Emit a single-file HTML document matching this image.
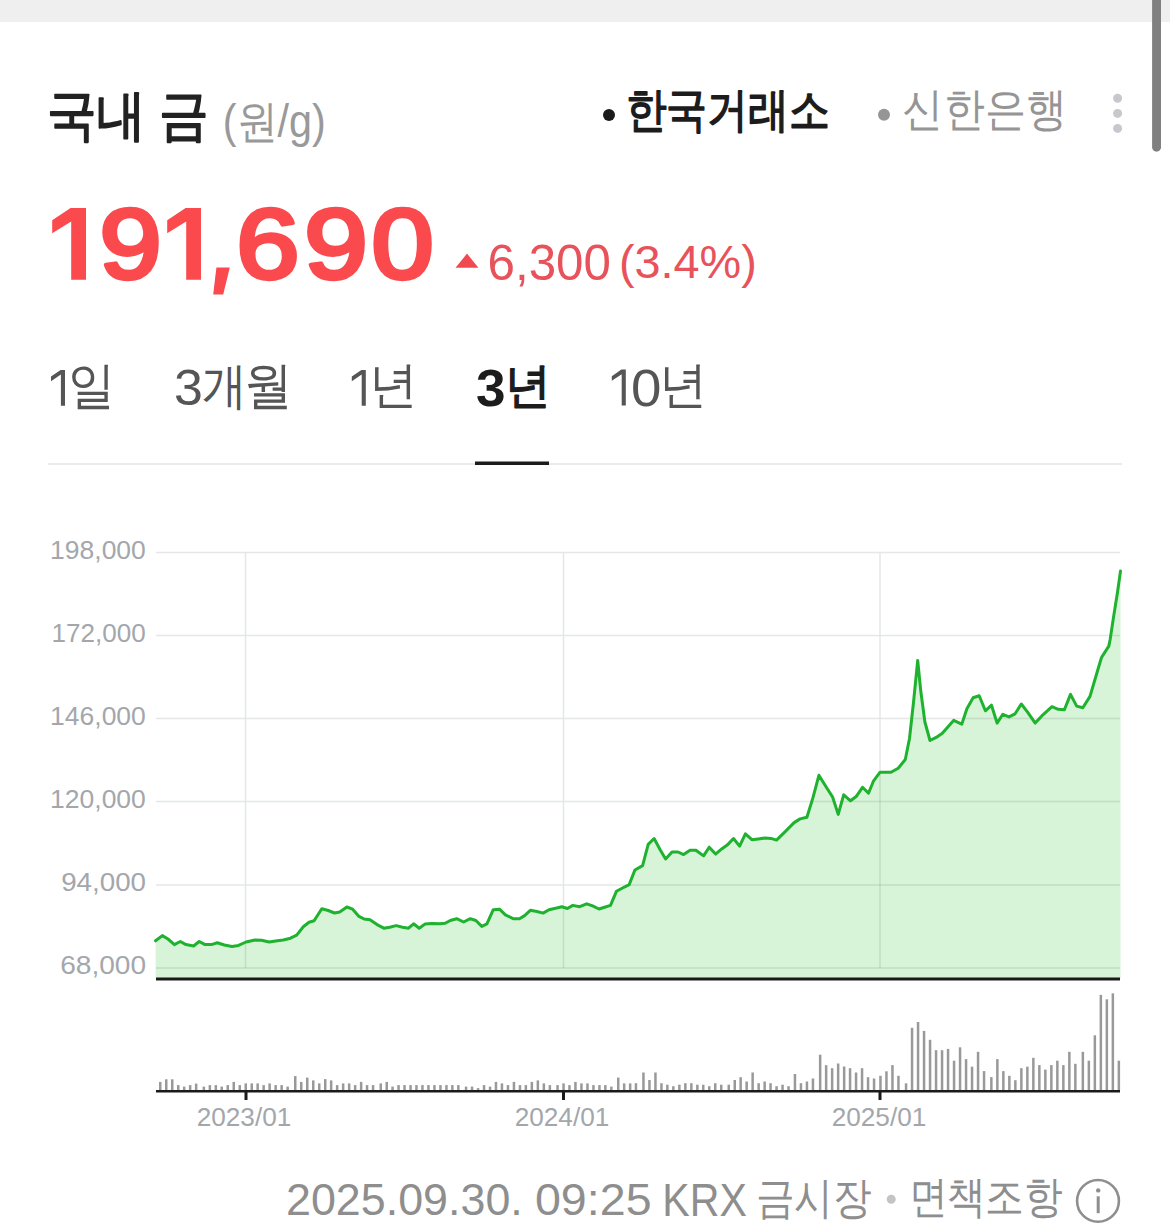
<!DOCTYPE html>
<html><head><meta charset="utf-8">
<style>
*{margin:0;padding:0;box-sizing:border-box}
html,body{width:1170px;height:1232px;overflow:hidden;background:#fff;font-family:"Liberation Sans",sans-serif;}
svg{position:absolute;left:0;top:0;display:block}
</style></head><body>
<svg width="1170" height="1232" viewBox="0 0 1170 1232">
<rect x="0" y="0" width="1170" height="22" fill="#efefef"/>
<path d="M1152.1,0 L1161,0 L1161,147.2 A4.45,4.45 0 0 1 1152.1,147.2 Z" fill="#808080"/>
<circle cx="609" cy="115" r="6" fill="#1c1c1c"/>
<circle cx="884" cy="114.7" r="6" fill="#959595"/>
<circle cx="1117.6" cy="98.2" r="4.5" fill="#c6c8cd"/>
<circle cx="1117.6" cy="113.4" r="4.5" fill="#c6c8cd"/>
<circle cx="1117.6" cy="128.4" r="4.5" fill="#c6c8cd"/>
<path d="M455.5,267.7 L467,253.6 L478.4,267.7 Z" fill="#f04a50"/>
<rect x="48" y="463" width="1074" height="2" fill="#ebebeb"/>
<rect x="475" y="461.5" width="74" height="3.5" fill="#1c1c1c"/>
<g stroke="#e4e6e8" stroke-width="1.5">
<line x1="156" y1="552.5" x2="1120" y2="552.5"/>
<line x1="156" y1="635.5" x2="1120" y2="635.5"/>
<line x1="156" y1="718.5" x2="1120" y2="718.5"/>
<line x1="156" y1="801.5" x2="1120" y2="801.5"/>
<line x1="156" y1="885" x2="1120" y2="885"/>
<line x1="156" y1="968" x2="1120" y2="968"/>
<line x1="245.5" y1="552" x2="245.5" y2="968"/>
<line x1="563.5" y1="552" x2="563.5" y2="968"/>
<line x1="880" y1="552" x2="880" y2="968"/>
</g>
<path d="M155.6,940.8 L162.3,935.6 L168.0,939.0 L174.4,944.6 L180.3,941.5 L185.9,944.6 L193.6,946.0 L199.2,941.5 L205.1,944.6 L211.5,944.6 L217.2,942.8 L224.4,945.0 L232.0,946.4 L238.5,945.4 L246.0,942.0 L255.0,940.0 L261.5,940.3 L269.2,942.0 L275.6,941.0 L283.3,940.0 L290.5,938.2 L296.7,935.1 L303.3,926.7 L309.0,922.3 L314.1,920.8 L321.8,908.7 L328.2,910.5 L334.6,913.0 L339.7,912.0 L346.9,907.0 L352.6,909.2 L359.0,916.4 L364.1,919.0 L370.0,919.7 L377.0,924.6 L383.8,928.2 L389.7,927.2 L396.2,925.6 L402.6,927.2 L408.5,928.2 L413.6,923.8 L419.2,928.2 L424.9,924.1 L432.0,923.6 L440.0,923.8 L445.1,923.3 L450.3,920.5 L456.7,918.7 L463.6,922.0 L470.3,918.7 L475.9,920.5 L481.8,926.4 L486.9,923.8 L493.3,909.7 L499.5,909.2 L505.4,914.9 L513.1,918.7 L519.5,918.7 L524.6,915.6 L530.3,910.3 L536.9,911.5 L543.1,913.1 L549.0,909.7 L556.7,908.0 L561.8,906.7 L567.4,908.5 L572.8,905.4 L579.7,906.7 L586.7,903.8 L592.6,905.9 L599.0,909.0 L604.6,907.2 L610.5,905.4 L616.4,891.3 L622.6,888.0 L629.2,884.6 L634.9,870.0 L642.6,865.6 L648.2,844.4 L654.1,838.5 L660.0,849.5 L665.6,859.0 L672.0,852.0 L678.0,852.0 L683.6,854.6 L690.0,850.3 L695.9,850.3 L703.6,855.9 L709.2,847.2 L715.6,854.1 L722.0,848.7 L727.2,845.1 L733.5,838.5 L739.6,846.1 L745.4,833.8 L751.9,839.7 L758.2,838.9 L765.0,838.0 L771.0,838.4 L776.5,840.1 L784.7,832.1 L794.1,822.6 L800.1,818.9 L806.9,817.2 L812.9,797.9 L818.9,775.3 L825.7,786.2 L832.6,797.0 L838.2,814.4 L843.7,794.8 L850.5,800.8 L856.5,796.2 L862.5,787.3 L868.5,793.2 L873.6,780.8 L880.1,772.2 L891.0,772.2 L898.2,768.2 L905.3,759.5 L909.5,738.5 L913.6,701.5 L917.7,660.5 L920.8,691.3 L924.9,722.0 L930.0,740.5 L936.2,737.4 L942.3,733.3 L948.5,726.2 L953.6,720.4 L961.8,724.1 L966.9,708.7 L973.1,697.8 L979.2,695.8 L985.4,710.8 L991.5,705.2 L997.1,723.1 L1002.8,714.3 L1009.0,716.9 L1015.1,713.8 L1021.3,704.0 L1027.4,711.8 L1035.2,723.1 L1041.8,715.9 L1052.0,706.7 L1058.2,709.3 L1064.4,709.7 L1070.5,694.4 L1076.7,706.1 L1082.8,707.7 L1090.0,696.4 L1095.1,679.0 L1101.5,657.5 L1108.8,646.1 L1110.1,639.7 L1113.3,618.6 L1117.5,592.2 L1120.5,571.1 L1120.5,979 L155.6,979 Z" fill="#c8f0c8" fill-opacity="0.7"/>
<clipPath id="ca"><path d="M155.6,940.8 L162.3,935.6 L168.0,939.0 L174.4,944.6 L180.3,941.5 L185.9,944.6 L193.6,946.0 L199.2,941.5 L205.1,944.6 L211.5,944.6 L217.2,942.8 L224.4,945.0 L232.0,946.4 L238.5,945.4 L246.0,942.0 L255.0,940.0 L261.5,940.3 L269.2,942.0 L275.6,941.0 L283.3,940.0 L290.5,938.2 L296.7,935.1 L303.3,926.7 L309.0,922.3 L314.1,920.8 L321.8,908.7 L328.2,910.5 L334.6,913.0 L339.7,912.0 L346.9,907.0 L352.6,909.2 L359.0,916.4 L364.1,919.0 L370.0,919.7 L377.0,924.6 L383.8,928.2 L389.7,927.2 L396.2,925.6 L402.6,927.2 L408.5,928.2 L413.6,923.8 L419.2,928.2 L424.9,924.1 L432.0,923.6 L440.0,923.8 L445.1,923.3 L450.3,920.5 L456.7,918.7 L463.6,922.0 L470.3,918.7 L475.9,920.5 L481.8,926.4 L486.9,923.8 L493.3,909.7 L499.5,909.2 L505.4,914.9 L513.1,918.7 L519.5,918.7 L524.6,915.6 L530.3,910.3 L536.9,911.5 L543.1,913.1 L549.0,909.7 L556.7,908.0 L561.8,906.7 L567.4,908.5 L572.8,905.4 L579.7,906.7 L586.7,903.8 L592.6,905.9 L599.0,909.0 L604.6,907.2 L610.5,905.4 L616.4,891.3 L622.6,888.0 L629.2,884.6 L634.9,870.0 L642.6,865.6 L648.2,844.4 L654.1,838.5 L660.0,849.5 L665.6,859.0 L672.0,852.0 L678.0,852.0 L683.6,854.6 L690.0,850.3 L695.9,850.3 L703.6,855.9 L709.2,847.2 L715.6,854.1 L722.0,848.7 L727.2,845.1 L733.5,838.5 L739.6,846.1 L745.4,833.8 L751.9,839.7 L758.2,838.9 L765.0,838.0 L771.0,838.4 L776.5,840.1 L784.7,832.1 L794.1,822.6 L800.1,818.9 L806.9,817.2 L812.9,797.9 L818.9,775.3 L825.7,786.2 L832.6,797.0 L838.2,814.4 L843.7,794.8 L850.5,800.8 L856.5,796.2 L862.5,787.3 L868.5,793.2 L873.6,780.8 L880.1,772.2 L891.0,772.2 L898.2,768.2 L905.3,759.5 L909.5,738.5 L913.6,701.5 L917.7,660.5 L920.8,691.3 L924.9,722.0 L930.0,740.5 L936.2,737.4 L942.3,733.3 L948.5,726.2 L953.6,720.4 L961.8,724.1 L966.9,708.7 L973.1,697.8 L979.2,695.8 L985.4,710.8 L991.5,705.2 L997.1,723.1 L1002.8,714.3 L1009.0,716.9 L1015.1,713.8 L1021.3,704.0 L1027.4,711.8 L1035.2,723.1 L1041.8,715.9 L1052.0,706.7 L1058.2,709.3 L1064.4,709.7 L1070.5,694.4 L1076.7,706.1 L1082.8,707.7 L1090.0,696.4 L1095.1,679.0 L1101.5,657.5 L1108.8,646.1 L1110.1,639.7 L1113.3,618.6 L1117.5,592.2 L1120.5,571.1 L1120.5,979 L155.6,979 Z"/></clipPath>
<g stroke="#1e2832" stroke-opacity="0.08" stroke-width="1.5" clip-path="url(#ca)">
<line x1="156" y1="552.5" x2="1120" y2="552.5"/>
<line x1="156" y1="635.5" x2="1120" y2="635.5"/>
<line x1="156" y1="718.5" x2="1120" y2="718.5"/>
<line x1="156" y1="801.5" x2="1120" y2="801.5"/>
<line x1="156" y1="885" x2="1120" y2="885"/>
<line x1="156" y1="968" x2="1120" y2="968"/>
<line x1="245.5" y1="552" x2="245.5" y2="968"/>
<line x1="563.5" y1="552" x2="563.5" y2="968"/>
<line x1="880" y1="552" x2="880" y2="968"/>
</g>
<path d="M155.6,940.8 L162.3,935.6 L168.0,939.0 L174.4,944.6 L180.3,941.5 L185.9,944.6 L193.6,946.0 L199.2,941.5 L205.1,944.6 L211.5,944.6 L217.2,942.8 L224.4,945.0 L232.0,946.4 L238.5,945.4 L246.0,942.0 L255.0,940.0 L261.5,940.3 L269.2,942.0 L275.6,941.0 L283.3,940.0 L290.5,938.2 L296.7,935.1 L303.3,926.7 L309.0,922.3 L314.1,920.8 L321.8,908.7 L328.2,910.5 L334.6,913.0 L339.7,912.0 L346.9,907.0 L352.6,909.2 L359.0,916.4 L364.1,919.0 L370.0,919.7 L377.0,924.6 L383.8,928.2 L389.7,927.2 L396.2,925.6 L402.6,927.2 L408.5,928.2 L413.6,923.8 L419.2,928.2 L424.9,924.1 L432.0,923.6 L440.0,923.8 L445.1,923.3 L450.3,920.5 L456.7,918.7 L463.6,922.0 L470.3,918.7 L475.9,920.5 L481.8,926.4 L486.9,923.8 L493.3,909.7 L499.5,909.2 L505.4,914.9 L513.1,918.7 L519.5,918.7 L524.6,915.6 L530.3,910.3 L536.9,911.5 L543.1,913.1 L549.0,909.7 L556.7,908.0 L561.8,906.7 L567.4,908.5 L572.8,905.4 L579.7,906.7 L586.7,903.8 L592.6,905.9 L599.0,909.0 L604.6,907.2 L610.5,905.4 L616.4,891.3 L622.6,888.0 L629.2,884.6 L634.9,870.0 L642.6,865.6 L648.2,844.4 L654.1,838.5 L660.0,849.5 L665.6,859.0 L672.0,852.0 L678.0,852.0 L683.6,854.6 L690.0,850.3 L695.9,850.3 L703.6,855.9 L709.2,847.2 L715.6,854.1 L722.0,848.7 L727.2,845.1 L733.5,838.5 L739.6,846.1 L745.4,833.8 L751.9,839.7 L758.2,838.9 L765.0,838.0 L771.0,838.4 L776.5,840.1 L784.7,832.1 L794.1,822.6 L800.1,818.9 L806.9,817.2 L812.9,797.9 L818.9,775.3 L825.7,786.2 L832.6,797.0 L838.2,814.4 L843.7,794.8 L850.5,800.8 L856.5,796.2 L862.5,787.3 L868.5,793.2 L873.6,780.8 L880.1,772.2 L891.0,772.2 L898.2,768.2 L905.3,759.5 L909.5,738.5 L913.6,701.5 L917.7,660.5 L920.8,691.3 L924.9,722.0 L930.0,740.5 L936.2,737.4 L942.3,733.3 L948.5,726.2 L953.6,720.4 L961.8,724.1 L966.9,708.7 L973.1,697.8 L979.2,695.8 L985.4,710.8 L991.5,705.2 L997.1,723.1 L1002.8,714.3 L1009.0,716.9 L1015.1,713.8 L1021.3,704.0 L1027.4,711.8 L1035.2,723.1 L1041.8,715.9 L1052.0,706.7 L1058.2,709.3 L1064.4,709.7 L1070.5,694.4 L1076.7,706.1 L1082.8,707.7 L1090.0,696.4 L1095.1,679.0 L1101.5,657.5 L1108.8,646.1 L1110.1,639.7 L1113.3,618.6 L1117.5,592.2 L1120.5,571.1" fill="none" stroke="#1eb22f" stroke-width="3" stroke-linejoin="round" stroke-linecap="round"/>
<rect x="156" y="977.5" width="964" height="3" fill="#1a1a1a"/>
<g fill="#999"><rect x="159.0" y="1081.9" width="2.5" height="8.1"/><rect x="165.0" y="1079.3" width="2.5" height="10.7"/><rect x="171.0" y="1079.3" width="2.5" height="10.7"/><rect x="177.0" y="1085.1" width="2.5" height="4.9"/><rect x="182.9" y="1086.6" width="2.5" height="3.4"/><rect x="188.9" y="1085.1" width="2.5" height="4.9"/><rect x="194.9" y="1083.6" width="2.5" height="6.4"/><rect x="202.6" y="1086.6" width="2.5" height="3.4"/><rect x="208.6" y="1085.1" width="2.5" height="4.9"/><rect x="214.6" y="1085.1" width="2.5" height="4.9"/><rect x="220.5" y="1086.6" width="2.5" height="3.4"/><rect x="226.5" y="1085.1" width="2.5" height="4.9"/><rect x="232.5" y="1081.9" width="2.5" height="8.1"/><rect x="238.5" y="1085.1" width="2.5" height="4.9"/><rect x="244.5" y="1083.4" width="2.5" height="6.6"/><rect x="250.5" y="1083.4" width="2.5" height="6.6"/><rect x="256.4" y="1083.4" width="2.5" height="6.6"/><rect x="262.4" y="1085.1" width="2.5" height="4.9"/><rect x="268.4" y="1083.4" width="2.5" height="6.6"/><rect x="274.4" y="1085.1" width="2.5" height="4.9"/><rect x="280.4" y="1085.1" width="2.5" height="4.9"/><rect x="286.4" y="1086.6" width="2.5" height="3.4"/><rect x="294.0" y="1076.1" width="2.5" height="13.9"/><rect x="300.0" y="1081.9" width="2.5" height="8.1"/><rect x="306.0" y="1077.6" width="2.5" height="12.4"/><rect x="312.0" y="1080.4" width="2.5" height="9.6"/><rect x="318.0" y="1083.4" width="2.5" height="6.6"/><rect x="324.0" y="1079.1" width="2.5" height="10.9"/><rect x="329.9" y="1080.4" width="2.5" height="9.6"/><rect x="335.9" y="1085.1" width="2.5" height="4.9"/><rect x="341.9" y="1083.4" width="2.5" height="6.6"/><rect x="347.9" y="1083.4" width="2.5" height="6.6"/><rect x="353.9" y="1085.1" width="2.5" height="4.9"/><rect x="359.9" y="1081.9" width="2.5" height="8.1"/><rect x="365.8" y="1085.1" width="2.5" height="4.9"/><rect x="371.8" y="1085.1" width="2.5" height="4.9"/><rect x="379.5" y="1083.4" width="2.5" height="6.6"/><rect x="385.5" y="1081.9" width="2.5" height="8.1"/><rect x="391.3" y="1086.6" width="2.5" height="3.4"/><rect x="397.3" y="1085.1" width="2.5" height="4.9"/><rect x="403.3" y="1085.1" width="2.5" height="4.9"/><rect x="409.3" y="1085.1" width="2.5" height="4.9"/><rect x="415.2" y="1085.1" width="2.5" height="4.9"/><rect x="421.2" y="1085.1" width="2.5" height="4.9"/><rect x="427.2" y="1085.1" width="2.5" height="4.9"/><rect x="433.2" y="1085.1" width="2.5" height="4.9"/><rect x="439.2" y="1085.1" width="2.5" height="4.9"/><rect x="445.2" y="1085.1" width="2.5" height="4.9"/><rect x="451.1" y="1085.1" width="2.5" height="4.9"/><rect x="457.1" y="1085.1" width="2.5" height="4.9"/><rect x="464.8" y="1086.6" width="2.5" height="3.4"/><rect x="470.8" y="1086.6" width="2.5" height="3.4"/><rect x="476.8" y="1088.1" width="2.5" height="1.9"/><rect x="482.8" y="1085.1" width="2.5" height="4.9"/><rect x="488.8" y="1086.6" width="2.5" height="3.4"/><rect x="494.7" y="1081.9" width="2.5" height="8.1"/><rect x="500.7" y="1083.4" width="2.5" height="6.6"/><rect x="506.7" y="1085.1" width="2.5" height="4.9"/><rect x="512.7" y="1081.9" width="2.5" height="8.1"/><rect x="518.7" y="1085.1" width="2.5" height="4.9"/><rect x="524.6" y="1085.1" width="2.5" height="4.9"/><rect x="530.6" y="1081.9" width="2.5" height="8.1"/><rect x="536.6" y="1080.4" width="2.5" height="9.6"/><rect x="542.6" y="1083.4" width="2.5" height="6.6"/><rect x="548.6" y="1085.1" width="2.5" height="4.9"/><rect x="556.3" y="1085.1" width="2.5" height="4.9"/><rect x="562.3" y="1083.4" width="2.5" height="6.6"/><rect x="568.2" y="1085.1" width="2.5" height="4.9"/><rect x="574.2" y="1081.9" width="2.5" height="8.1"/><rect x="580.2" y="1083.4" width="2.5" height="6.6"/><rect x="586.2" y="1083.4" width="2.5" height="6.6"/><rect x="592.2" y="1085.1" width="2.5" height="4.9"/><rect x="598.2" y="1085.1" width="2.5" height="4.9"/><rect x="604.1" y="1085.1" width="2.5" height="4.9"/><rect x="610.1" y="1086.6" width="2.5" height="3.4"/><rect x="617.0" y="1077.6" width="2.5" height="12.4"/><rect x="622.9" y="1083.4" width="2.5" height="6.6"/><rect x="628.9" y="1083.4" width="2.5" height="6.6"/><rect x="634.7" y="1083.2" width="2.5" height="6.8"/><rect x="642.2" y="1072.5" width="2.5" height="17.5"/><rect x="648.2" y="1080.0" width="2.5" height="10.0"/><rect x="654.2" y="1072.5" width="2.5" height="17.5"/><rect x="660.2" y="1083.2" width="2.5" height="6.8"/><rect x="666.1" y="1084.7" width="2.5" height="5.3"/><rect x="672.1" y="1086.2" width="2.5" height="3.8"/><rect x="678.1" y="1084.7" width="2.5" height="5.3"/><rect x="684.1" y="1083.2" width="2.5" height="6.8"/><rect x="690.1" y="1083.2" width="2.5" height="6.8"/><rect x="696.1" y="1084.7" width="2.5" height="5.3"/><rect x="702.0" y="1084.7" width="2.5" height="5.3"/><rect x="708.0" y="1086.2" width="2.5" height="3.8"/><rect x="714.0" y="1083.2" width="2.5" height="6.8"/><rect x="720.0" y="1084.7" width="2.5" height="5.3"/><rect x="727.5" y="1084.7" width="2.5" height="5.3"/><rect x="733.5" y="1080.0" width="2.5" height="10.0"/><rect x="739.4" y="1077.2" width="2.5" height="12.8"/><rect x="745.4" y="1081.5" width="2.5" height="8.5"/><rect x="751.4" y="1072.5" width="2.5" height="17.5"/><rect x="757.4" y="1083.2" width="2.5" height="6.8"/><rect x="763.4" y="1081.5" width="2.5" height="8.5"/><rect x="769.3" y="1083.2" width="2.5" height="6.8"/><rect x="775.3" y="1086.2" width="2.5" height="3.8"/><rect x="781.3" y="1084.7" width="2.5" height="5.3"/><rect x="787.3" y="1086.2" width="2.5" height="3.8"/><rect x="793.7" y="1074.0" width="2.5" height="16.0"/><rect x="799.7" y="1083.2" width="2.5" height="6.8"/><rect x="805.7" y="1081.5" width="2.5" height="8.5"/><rect x="811.7" y="1078.5" width="2.5" height="11.5"/><rect x="818.9" y="1054.7" width="2.5" height="35.3"/><rect x="824.9" y="1065.2" width="2.5" height="24.8"/><rect x="830.9" y="1068.2" width="2.5" height="21.8"/><rect x="836.9" y="1063.5" width="2.5" height="26.5"/><rect x="842.9" y="1066.5" width="2.5" height="23.5"/><rect x="848.8" y="1068.2" width="2.5" height="21.8"/><rect x="854.8" y="1072.5" width="2.5" height="17.5"/><rect x="860.8" y="1068.2" width="2.5" height="21.8"/><rect x="866.8" y="1077.2" width="2.5" height="12.8"/><rect x="872.8" y="1078.5" width="2.5" height="11.5"/><rect x="879.2" y="1075.8" width="2.5" height="14.2"/><rect x="885.2" y="1071.3" width="2.5" height="18.7"/><rect x="891.2" y="1065.1" width="2.5" height="24.9"/><rect x="897.2" y="1075.8" width="2.5" height="14.2"/><rect x="904.8" y="1083.3" width="2.5" height="6.7"/><rect x="910.8" y="1027.8" width="2.5" height="62.2"/><rect x="916.8" y="1022.0" width="2.5" height="68.0"/><rect x="922.8" y="1030.9" width="2.5" height="59.1"/><rect x="928.8" y="1039.8" width="2.5" height="50.2"/><rect x="934.8" y="1050.2" width="2.5" height="39.8"/><rect x="940.8" y="1050.2" width="2.5" height="39.8"/><rect x="946.8" y="1048.9" width="2.5" height="41.1"/><rect x="952.8" y="1060.7" width="2.5" height="29.3"/><rect x="958.8" y="1047.3" width="2.5" height="42.7"/><rect x="964.8" y="1059.1" width="2.5" height="30.9"/><rect x="970.8" y="1066.7" width="2.5" height="23.3"/><rect x="976.8" y="1051.8" width="2.5" height="38.2"/><rect x="982.8" y="1071.1" width="2.5" height="18.9"/><rect x="990.1" y="1077.1" width="2.5" height="12.9"/><rect x="996.1" y="1059.1" width="2.5" height="30.9"/><rect x="1002.1" y="1071.1" width="2.5" height="18.9"/><rect x="1008.1" y="1075.8" width="2.5" height="14.2"/><rect x="1014.1" y="1080.2" width="2.5" height="9.8"/><rect x="1020.1" y="1068.2" width="2.5" height="21.8"/><rect x="1026.1" y="1066.7" width="2.5" height="23.3"/><rect x="1032.1" y="1057.8" width="2.5" height="32.2"/><rect x="1038.1" y="1065.1" width="2.5" height="24.9"/><rect x="1044.1" y="1069.6" width="2.5" height="20.4"/><rect x="1050.1" y="1065.1" width="2.5" height="24.9"/><rect x="1056.1" y="1060.7" width="2.5" height="29.3"/><rect x="1062.1" y="1065.1" width="2.5" height="24.9"/><rect x="1068.1" y="1051.8" width="2.5" height="38.2"/><rect x="1074.1" y="1063.8" width="2.5" height="26.2"/><rect x="1081.6" y="1051.8" width="2.5" height="38.2"/><rect x="1087.6" y="1060.7" width="2.5" height="29.3"/><rect x="1093.6" y="1035.3" width="2.5" height="54.7"/><rect x="1099.6" y="994.9" width="2.5" height="95.1"/><rect x="1105.6" y="999.3" width="2.5" height="90.7"/><rect x="1111.6" y="993.3" width="2.5" height="96.7"/><rect x="1117.6" y="1060.7" width="2.5" height="29.3"/></g>
<rect x="156" y="1090" width="964" height="2.5" fill="#1a1a1a"/>
<rect x="244.5" y="1090" width="3" height="10" fill="#1a1a1a"/>
<rect x="562" y="1090" width="3" height="10" fill="#1a1a1a"/>
<rect x="878.5" y="1090" width="3" height="10" fill="#1a1a1a"/>
<circle cx="891.2" cy="1199.2" r="4.5" fill="#c4c4c4"/>
<circle cx="1098" cy="1200.9" r="20.9" fill="none" stroke="#8e8e8e" stroke-width="2.6"/>
<circle cx="1098.2" cy="1190.4" r="2.2" fill="#8e8e8e"/>
<rect x="1096.7" y="1196.3" width="3" height="16.9" fill="#8e8e8e"/>
<path d="M216.4,267.6 L229.8,267.6 L223.2,294.5 L213.2,294.5 Z" fill="#fa4a4e"/><path transform="translate(0 0)" d="M52.2,220.3 L70.6,208 L86,208 L86,279.8 L71.2,279.8 L71.2,221.6 L52.2,233.3 Z" fill="#fa4a4e"/><path transform="translate(115 0)" d="M52.2,220.3 L70.6,208 L86,208 L86,279.8 L71.2,279.8 L71.2,221.6 L52.2,233.3 Z" fill="#fa4a4e"/><path transform="translate(0 0)" d="M51,376.6 L60.6,369.9 L65,369.9 L65,405.8 L60.9,405.8 L60.9,374.6 L51,381.2 Z" fill="#555555"/><path transform="translate(300.8 0)" d="M51,376.6 L60.6,369.9 L65,369.9 L65,405.8 L60.9,405.8 L60.9,374.6 L51,381.2 Z" fill="#555555"/><path transform="translate(560.8 -0.4)" d="M51,376.6 L60.6,369.9 L65,369.9 L65,405.8 L60.9,405.8 L60.9,374.6 L51,381.2 Z" fill="#555555"/>
<g font-family="Liberation Sans, sans-serif" font-size="200">
<text transform="matrix(0.2472 0 0 0.2747 47.03 134.33)" fill="#222222" stroke="#222222" stroke-width="5.99" stroke-linejoin="round">국내 금</text>
<text transform="matrix(0.2067 0 0 0.2271 222.82 137.26)" fill="#999999">(원/g)</text>
<text transform="matrix(0.2056 0 0 0.2366 625.53 126.19)" fill="#1c1c1c" stroke="#1c1c1c" stroke-width="6.55" stroke-linejoin="round">한국거래소</text>
<text transform="matrix(0.2063 0 0 0.2313 902.24 125.49)" fill="#959595">신한은행</text>
<text transform="matrix(0.5584 0 0 0.4933 99.61 278.04)" fill="#fa4a4e" stroke="#fa4a4e" stroke-width="8.76" stroke-linejoin="round">9</text>
<text transform="matrix(0.5683 0 0 0.4927 236.19 278.14)" fill="#fa4a4e" stroke="#fa4a4e" stroke-width="8.77" stroke-linejoin="round">6</text>
<text transform="matrix(0.5713 0 0 0.4940 304.34 277.84)" fill="#fa4a4e" stroke="#fa4a4e" stroke-width="8.74" stroke-linejoin="round">9</text>
<text transform="matrix(0.5590 0 0 0.4940 371.52 277.84)" fill="#fa4a4e" stroke="#fa4a4e" stroke-width="8.74" stroke-linejoin="round">0</text>
<text transform="matrix(0.2466 0 0 0.2451 487.53 279.81)" fill="#e8525a">6,300</text>
<text transform="matrix(0.2340 0 0 0.2305 618.99 278.32)" fill="#e8525a">(3.4%)</text>
<text transform="matrix(0.2346 0 0 0.2534 68.28 402.72)" fill="#555555">일</text>
<text transform="matrix(0.2596 0 0 0.2535 173.92 405.09)" fill="#555555">3</text>
<text transform="matrix(0.2242 0 0 0.2506 202.43 402.58)" fill="#555555">개</text>
<text transform="matrix(0.2447 0 0 0.2563 243.64 403.45)" fill="#555555">월</text>
<text transform="matrix(0.2420 0 0 0.2483 368.75 402.04)" fill="#555555">년</text>
<text transform="matrix(0.2657 0 0 0.2606 475.97 405.58)" fill="#1c1c1c" font-weight="bold">3</text>
<text transform="matrix(0.2288 0 0 0.2400 505.17 401.52)" fill="#1c1c1c" stroke="#1c1c1c" stroke-width="6.25" stroke-linejoin="round">년</text>
<text transform="matrix(0.2737 0 0 0.2599 631.11 405.78)" fill="#555555">0</text>
<text transform="matrix(0.2393 0 0 0.2477 659.12 402.16)" fill="#555555">년</text>
<text transform="matrix(0.1324 0 0 0.1324 50.11 558.84)" fill="#a3a7ac">198,000</text>
<text transform="matrix(0.1304 0 0 0.1324 51.54 641.74)" fill="#a3a7ac">172,000</text>
<text transform="matrix(0.1324 0 0 0.1324 50.11 724.74)" fill="#a3a7ac">146,000</text>
<text transform="matrix(0.1324 0 0 0.1324 50.11 807.64)" fill="#a3a7ac">120,000</text>
<text transform="matrix(0.1388 0 0 0.1324 61.15 891.24)" fill="#a3a7ac">94,000</text>
<text transform="matrix(0.1404 0 0 0.1324 60.20 973.54)" fill="#a3a7ac">68,000</text>
<text transform="matrix(0.1309 0 0 0.1303 196.69 1125.54)" fill="#a3a7ac">2023/01</text>
<text transform="matrix(0.1309 0 0 0.1303 514.69 1125.54)" fill="#a3a7ac">2024/01</text>
<text transform="matrix(0.1309 0 0 0.1303 831.69 1125.54)" fill="#a3a7ac">2025/01</text>
<text transform="matrix(0.2242 0 0 0.2218 285.96 1215.06)" fill="#8e8e8e">2025.09.30.</text>
<text transform="matrix(0.2331 0 0 0.2218 534.94 1215.06)" fill="#8e8e8e">09:25</text>
<text transform="matrix(0.2056 0 0 0.2283 662.31 1215.50)" fill="#8e8e8e">KRX</text>
<text transform="matrix(0.1929 0 0 0.2194 756.01 1212.92)" fill="#8e8e8e">금시장</text>
<text transform="matrix(0.1925 0 0 0.2183 908.59 1212.45)" fill="#8e8e8e">면책조항</text>
</g>
</svg>
</body></html>
